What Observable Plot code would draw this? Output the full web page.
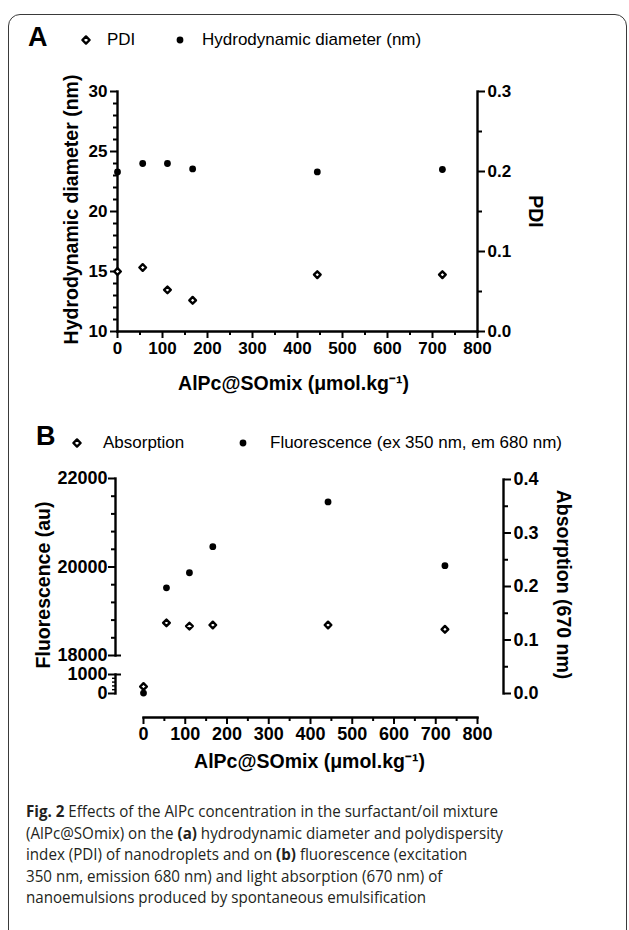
<!DOCTYPE html>
<html>
<head>
<meta charset="utf-8">
<script src="https://cdn.jsdelivr.net/npm/d3@7"></script>
<script src="https://cdn.jsdelivr.net/npm/@observablehq/plot@0.6"></script>
<style>
html,body{margin:0;padding:0;background:#fff;}
#fig{position:relative;width:629px;height:930px;overflow:hidden;background:#fff;font-family:"Liberation Sans",Arial,sans-serif;color:#000;}
#frame{position:absolute;left:8px;top:14px;width:619px;height:960px;border:1.6px solid #3a3a3a;border-radius:12px;box-sizing:border-box;}
.lg{position:absolute;height:24px;line-height:24px;white-space:nowrap;font-size:17px;}
.panel{position:absolute;font-weight:bold;font-size:27px;line-height:30px;height:30px;}
.sym{position:absolute;width:12px;height:12px;}
#caption{position:absolute;left:26px;top:801px;font-family:"Open Sans","Noto Sans",sans-serif;font-size:16px;line-height:21.6px;color:#231f20;transform-origin:0 0;white-space:nowrap;}
#caption div{white-space:nowrap;}
</style>
</head>
<body>
<div id="fig">
  <div id="frame"></div>
  <div class="panel" style="left:28px;top:22px;">A</div>
  <svg class="sym" style="left:80px;top:34px;" viewBox="0 0 12 12"><path d="M6,2.4L9.6,6L6,9.6L2.4,6Z" fill="#fff" stroke="#000" stroke-width="2.4" stroke-linejoin="round"/></svg>
  <div class="lg" style="left:107px;top:28px;">PDI</div>
  <svg class="sym" style="left:174px;top:34px;" viewBox="0 0 12 12"><circle cx="6" cy="6" r="3.4" fill="#000"/></svg>
  <div class="lg" style="left:202px;top:28px;">Hydrodynamic diameter (nm)</div>

  <div class="panel" style="left:36px;top:421px;">B</div>
  <svg class="sym" style="left:71px;top:437px;" viewBox="0 0 12 12"><path d="M6,2.4L9.6,6L6,9.6L2.4,6Z" fill="#fff" stroke="#000" stroke-width="2.4" stroke-linejoin="round"/></svg>
  <div class="lg" style="left:103px;top:431px;">Absorption</div>
  <svg class="sym" style="left:237px;top:437px;" viewBox="0 0 12 12"><circle cx="6" cy="6" r="3.4" fill="#000"/></svg>
  <div class="lg" style="left:270px;top:431px;">Fluorescence (ex 350 nm, em 680 nm)</div>

  <div id="caption">
    <div><b>Fig. 2</b> Effects of the AlPc concentration in the surfactant/oil mixture</div>
    <div>(AlPc@SOmix) on the <b>(a)</b> hydrodynamic diameter and polydispersity</div>
    <div>index (PDI) of nanodroplets and on <b>(b)</b> fluorescence (excitation</div>
    <div>350 nm, emission 680 nm) and light absorption (670 nm) of</div>
    <div>nanoemulsions produced by spontaneous emulsification</div>
  </div>
</div>
<script>
// ---------- data ----------
const concA = [0, 56, 111, 167, 444, 722];
const hydroDiameter = [23.3, 24.0, 24.0, 23.55, 23.3, 23.5];
const pdiValues = [0.075, 0.080, 0.052, 0.039, 0.071, 0.071];

const concB = [0, 55, 110, 166, 442, 722];
const fluorescence = [20, 19530, 19870, 20460, 21470, 20030];
const absorption = [0.013, 0.132, 0.126, 0.128, 0.128, 0.120];

// ---------- ticks & labels ----------
const xTicks = [0, 100, 200, 300, 400, 500, 600, 700, 800];
const xMinorTicks = [50, 150, 250, 350, 450, 550, 650, 750];
const hdTicks = [10, 15, 20, 25, 30];
const hdMinorTicks = [11, 12, 13, 14, 16, 17, 18, 19, 21, 22, 23, 24, 26, 27, 28, 29];
const pdiTicks = [0, 0.1, 0.2, 0.3];
const pdiMinorTicks = [0.05, 0.15, 0.25];
const fluoHighTicks = [18000, 20000, 22000];
const fluoHighMinorTicks = [18400, 18800, 19200, 19600, 20400, 20800, 21200, 21600];
const fluoLowTicks = [0, 1000];
const fluoLowMinorTicks = [200, 400, 600, 800];
const absTicks = [0, 0.1, 0.2, 0.3, 0.4];
const absMinorTicks = [0.05, 0.15, 0.25, 0.35];

const xTitle = "AlPc@SOmix (μmol.kg⁻¹)";
const hdTitle = "Hydrodynamic diameter (nm)";
const pdiTitle = "PDI";
const fluoTitle = "Fluorescence (au)";
const absTitle = "Absorption (670 nm)";

// ---------- tables ----------
const panelA = concA.map((c, i) => ({conc: c, hd: hydroDiameter[i], pdi: pdiValues[i]}));
const panelB = concB.map((c, i) => ({conc: c, fluo: fluorescence[i], abs: absorption[i]}));

const FONT = '"Liberation Sans", Arial, Helvetica, sans-serif';
const fig = document.getElementById("fig");
const baseStyle = {background: "transparent", color: "#000", fontFamily: FONT, overflow: "visible"};
const TF = {fontSize: 17, fontWeight: "bold", fontFamily: FONT, fill: "#000"};
const TITLE = {fontSize: 19.5, fontWeight: "bold", fontFamily: FONT, fill: "#000", textAnchor: "middle", lineAnchor: "middle"};
const AX = {strokeWidth: 2.4, stroke: "#000"};
const DIAMOND = {symbol: "diamond2", r: 3.0, stroke: "#000", strokeWidth: 2.4, fill: "#fff", strokeLinejoin: "round"};
const DOT = {r: 3.4, fill: "#000", stroke: null};

function major(o) { return {tickSize: 7, strokeWidth: 2, stroke: "#000", tickPadding: 3, label: null, ...TF, ...o}; }
function minor(o) { return {tickSize: 4, strokeWidth: 2, stroke: "#000", tickFormat: () => "", label: null, ...o}; }
function place(svg, top) {
  svg.style.position = "absolute";
  svg.style.left = "0px";
  svg.style.top = top + "px";
  fig.appendChild(svg);
}
const f1 = d3.format(".1f");
const fd = d3.format("d");

// ---------- Panel A : hydrodynamic diameter (left axis) ----------
place(Plot.plot({
  width: 629, height: 400,
  marginLeft: 117, marginRight: 152, marginTop: 91, marginBottom: 69,
  style: baseStyle,
  x: {domain: [0, 800], axis: null},
  y: {domain: [10, 30], axis: null},
  marks: [
    Plot.frame({anchor: "left", ...AX}),
    Plot.frame({anchor: "bottom", ...AX}),
    Plot.axisY(major({ticks: hdTicks, anchor: "left", tickFormat: fd})),
    Plot.axisY(minor({ticks: hdMinorTicks, anchor: "left"})),
    Plot.axisX(major({ticks: xTicks, anchor: "bottom", tickFormat: fd})),
    Plot.axisX(minor({ticks: xMinorTicks, anchor: "bottom"})),
    Plot.text([hdTitle], {text: d => d, frameAnchor: "left", dx: -46, dy: -2, rotate: -90, ...TITLE}),
    Plot.text([xTitle], {text: d => d, frameAnchor: "bottom", dy: 52, dx: -4, ...TITLE}),
    Plot.dot(panelA, {x: "conc", y: "hd", ...DOT})
  ]
}), 0);

// ---------- Panel A : PDI (right axis) ----------
place(Plot.plot({
  width: 629, height: 400,
  marginLeft: 117, marginRight: 152, marginTop: 91, marginBottom: 69,
  style: baseStyle,
  x: {domain: [0, 800], axis: null},
  y: {domain: [0, 0.3], axis: null},
  marks: [
    Plot.frame({anchor: "right", ...AX}),
    Plot.axisY(major({ticks: pdiTicks, anchor: "right", tickFormat: f1})),
    Plot.axisY(minor({ticks: pdiMinorTicks, anchor: "right"})),
    Plot.text([pdiTitle], {text: d => d, frameAnchor: "right", dx: 58, rotate: 90, ...TITLE}),
    Plot.dot(panelA, {x: "conc", y: "pdi", ...DIAMOND})
  ]
}), 0);

// ---------- Panel B : fluorescence, upper segment ----------
const xB = {domain: [0, 800], insetLeft: 28, insetRight: 26, axis: null};
place(Plot.plot({
  width: 629, height: 400,
  marginLeft: 115, marginRight: 126, marginTop: 78, marginBottom: 145,
  style: baseStyle,
  x: xB,
  y: {domain: [18000, 22000], axis: null},
  marks: [
    Plot.frame({anchor: "left", ...AX}),
    Plot.axisY(major({ticks: fluoHighTicks, anchor: "left", tickFormat: fd, fontSize: 18, tickPadding: 1})),
    Plot.axisY(minor({ticks: fluoHighMinorTicks, anchor: "left"})),
    Plot.axisY(minor({ticks: [18000], anchor: "left", tickSize: -6})),
    Plot.text([fluoTitle], {text: d => d, frameAnchor: "left", dx: -72, dy: 18, rotate: -90, ...TITLE}),
    Plot.dot(panelB.filter(d => d.fluo >= 18000), {x: "conc", y: "fluo", ...DOT})
  ]
}), 400);

// ---------- Panel B : fluorescence, lower segment ----------
place(Plot.plot({
  width: 629, height: 400,
  marginLeft: 115, marginRight: 126, marginTop: 274, marginBottom: 107,
  style: baseStyle,
  x: xB,
  y: {domain: [0, 1000], axis: null},
  marks: [
    Plot.frame({anchor: "left", ...AX}),
    Plot.axisY(major({ticks: fluoLowTicks, anchor: "left", tickFormat: fd, fontSize: 18, tickPadding: 1})),
    Plot.axisY(minor({ticks: fluoLowMinorTicks, anchor: "left", tickSize: 3, strokeWidth: 1.4})),
    Plot.axisY(minor({ticks: [1000], anchor: "left", tickSize: -6})),
    Plot.dot(panelB.filter(d => d.fluo < 1000), {x: "conc", y: "fluo", ...DOT})
  ]
}), 400);

// ---------- Panel B : absorption (right axis) ----------
place(Plot.plot({
  width: 629, height: 400,
  marginLeft: 115, marginRight: 126, marginTop: 79, marginBottom: 107,
  style: baseStyle,
  x: xB,
  y: {domain: [0, 0.4], axis: null},
  marks: [
    Plot.frame({anchor: "right", ...AX}),
    Plot.axisY(major({ticks: absTicks, anchor: "right", tickFormat: f1, fontSize: 18})),
    Plot.axisY(minor({ticks: absMinorTicks, anchor: "right"})),
    Plot.text([absTitle], {text: d => d, frameAnchor: "right", dx: 60, dy: -2, rotate: 90, ...TITLE}),
    Plot.dot(panelB, {x: "conc", y: "abs", ...DIAMOND})
  ]
}), 400);

// ---------- Panel B : detached x axis ----------
place(Plot.plot({
  width: 629, height: 400,
  marginLeft: 143, marginRight: 152, marginTop: 0, marginBottom: 83,
  style: baseStyle,
  x: {domain: [0, 800], axis: null},
  marks: [
    Plot.frame({anchor: "bottom", ...AX}),
    Plot.axisX(major({ticks: xTicks, anchor: "bottom", tickFormat: fd, fontSize: 18, tickPadding: 3})),
    Plot.axisX(minor({ticks: xMinorTicks, anchor: "bottom"})),
    Plot.text([xTitle], {text: d => d, frameAnchor: "bottom", dy: 44, dx: -1, ...TITLE})
  ]
}), 400);

// ---------- caption width fit ----------
const cap = document.getElementById("caption");
const firstLine = cap.firstElementChild;
const range = document.createRange();
range.selectNodeContents(firstLine);
const tw = range.getBoundingClientRect().width;
cap.style.transform = `scaleX(${472 / tw})`;
</script>
</body>
</html>
